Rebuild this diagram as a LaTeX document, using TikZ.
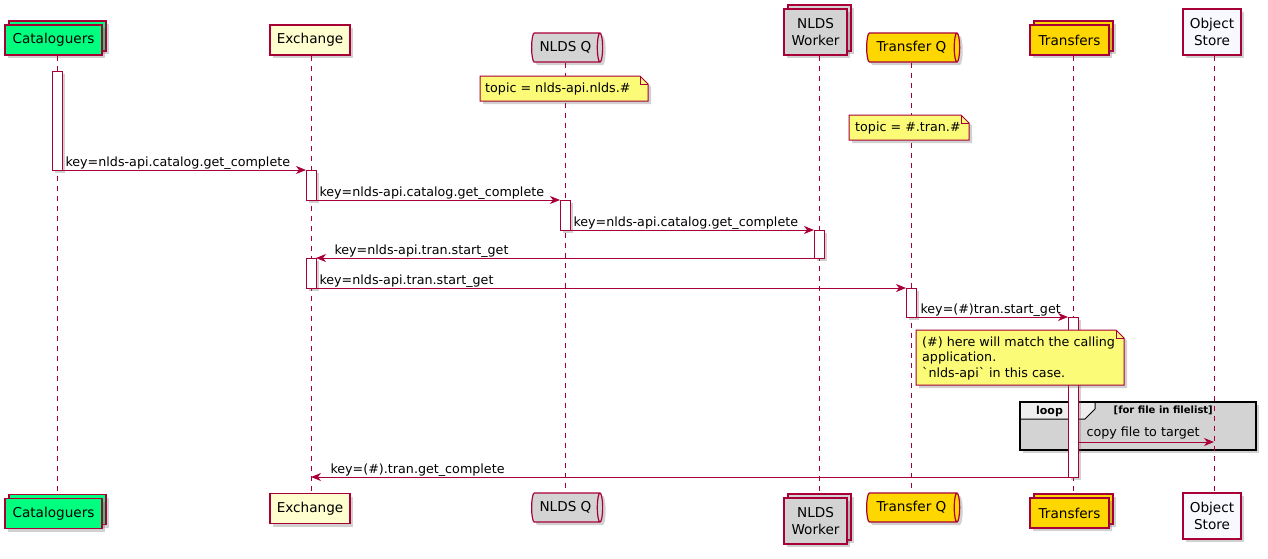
\documentclass[tikz,border=0pt]{standalone}
\usepackage{fontspec}
\setmainfont{DejaVu Sans}[Ligatures=TeXOff]
\usetikzlibrary{arrows.meta,shapes.geometric,shadows}
\newcommand{\partfont}{\fontsize{13.6pt}{17pt}\selectfont}
\newcommand{\msgfont}{\fontsize{12.7pt}{15.5pt}\selectfont}
\definecolor{umlred}{HTML}{A80036}
\definecolor{catgreen}{HTML}{00FF7F}
\definecolor{exyellow}{HTML}{FEFECE}
\definecolor{qgray}{HTML}{D3D3D3}
\definecolor{trgold}{HTML}{FFD700}
\definecolor{storewhite}{HTML}{F8F8FF}
\definecolor{noteyellow}{HTML}{FBFB77}
\definecolor{tabgray}{HTML}{EEEEEE}
\tikzset{>={Stealth[length=10pt,width=8pt,inset=3pt]}}
\tikzset{
  shade/.style={drop shadow={shadow xshift=3pt,shadow yshift=-3pt,fill=black!60,opacity=0.3}},
  part/.style={draw=umlred, line width=1.2pt, inner sep=0pt, align=center, font=\partfont, shade},
  queue/.style={part, cylinder, shape aspect=0.45},
  life/.style={draw=umlred, line width=1pt, dash pattern=on 5pt off 5pt},
  actbar/.style={draw=umlred, fill=white, line width=1pt, minimum width=10pt, inner sep=0pt, outer sep=0pt, shade},
  msg/.style={->, draw=umlred, line width=1pt},
  lbl/.style={anchor=base west, yshift=4pt, inner sep=0pt, font=\msgfont, text=black},
  notebg/.style={draw=umlred, fill=noteyellow, line width=1pt, shade},
  notefold/.style={draw=umlred, line width=1pt},
  notetext/.style={anchor=west, inner sep=0pt, align=left, font=\msgfont},
}
\begin{document}
\begin{tikzpicture}[x=1pt,y=-1pt]
\useasboundingbox (0,0) rectangle (1268,558);

% lifeline columns
\coordinate (lcat) at (57,0);
\coordinate (lex) at (311,0);
\coordinate (lnq) at (565.5,0);
\coordinate (lwk) at (819,0);
\coordinate (ltq) at (911.5,0);
\coordinate (ltr) at (1073,0);
\coordinate (los) at (1214,0);

% participants, top
\node[part, fill=catgreen, minimum width=97pt, minimum height=30pt] (catTb) at (57.5,36) {};
\node[part, fill=catgreen, minimum width=97pt, minimum height=30pt] (catT) at (53.5,40) {Cataloguers};
\node[part, fill=exyellow, minimum width=80pt, minimum height=30pt] (exT) at (310,40) {Exchange};
\node[queue, fill=qgray, minimum height=71pt, minimum width=29pt] (nqT) at (565.5,47.5) {NLDS Q};
\node[part, fill=qgray, minimum width=63pt, minimum height=46pt] (wkTb) at (819.5,28) {};
\node[part, fill=qgray, minimum width=63pt, minimum height=46pt] (wkT) at (815.5,32) {NLDS\\Worker};
\node[queue, fill=trgold, minimum height=93pt, minimum width=29pt] (tqT) at (911.5,47.5) {Transfer Q};
\node[part, fill=trgold, minimum width=79pt, minimum height=30pt] (trTb) at (1073.5,36) {};
\node[part, fill=trgold, minimum width=79pt, minimum height=30pt] (trT) at (1069.5,40) {Transfers};
\node[part, fill=storewhite, minimum width=58pt, minimum height=46pt] (osT) at (1212,32) {Object\\Store};

% participants, bottom
\node[part, fill=catgreen, minimum width=97pt, minimum height=30pt] (catBb) at (57.5,509.5) {};
\node[part, fill=catgreen, minimum width=97pt, minimum height=30pt] (catB) at (53.5,513.5) {Cataloguers};
\node[part, fill=exyellow, minimum width=80pt, minimum height=30pt] (exB) at (310,508.5) {Exchange};
\node[queue, fill=qgray, minimum height=71pt, minimum width=29pt] (nqB) at (565.5,507.5) {NLDS Q};
\node[part, fill=qgray, minimum width=63pt, minimum height=46pt] (wkBb) at (819.5,517) {};
\node[part, fill=qgray, minimum width=63pt, minimum height=46pt] (wkB) at (815.5,521) {NLDS\\Worker};
\node[queue, fill=trgold, minimum height=93pt, minimum width=29pt] (tqB) at (911.5,507.5) {Transfer Q};
\node[part, fill=trgold, minimum width=79pt, minimum height=30pt] (trBb) at (1073.5,509) {};
\node[part, fill=trgold, minimum width=79pt, minimum height=30pt] (trB) at (1069.5,513) {Transfers};
\node[part, fill=storewhite, minimum width=58pt, minimum height=46pt] (osB) at (1212,516) {Object\\Store};

% loop frame
\fill[qgray, shade] (1020,402) rectangle (1256,450);
\filldraw[fill=tabgray, draw=black, line width=1pt] (1020,402) -- (1095,402) -- (1095,409) -- (1085,419) -- (1020,419) -- cycle;
\draw[black, line width=2pt] (1020,402) rectangle (1256,450);
\node[inner sep=0pt, font=\fontsize{11pt}{13pt}\bfseries] (lp) at (1049.5,411) {loop};
\node[anchor=east, inner sep=0pt, font=\fontsize{10pt}{12pt}\bfseries] (lpc) at (1213,410) {[for file in filelist]};

% lifelines
\draw[life] (lcat |- catT.south) -- (lcat |- catBb.north);
\draw[life] (lex |- exT.south) -- (lex |- exB.north);
\draw[life] (lnq |- nqT.south) -- (lnq |- nqB.north);
\draw[life] (lwk |- wkT.south) -- (lwk |- wkBb.north);
\draw[life] (ltq |- tqT.south) -- (ltq |- tqB.north);
\draw[life] (ltr |- trT.south) -- (ltr |- trBb.north);
\draw[life] (los |- osT.south) -- (los |- osB.north);

% activations
\node[actbar, minimum height=99pt] (caA) at (57,120.5) {};
\node[actbar, minimum height=30pt] (exA1) at (311,185) {};
\node[actbar, minimum height=30pt] (nqA) at (565,215) {};
\node[actbar, minimum height=28pt] (wkA) at (819,244) {};
\node[actbar, minimum height=30pt] (exA2) at (311,273) {};
\node[actbar, minimum height=29pt] (tqA) at (911,302.5) {};
\node[actbar, minimum height=160pt] (trA) at (1073,397) {};

% messages
\draw[msg] (caA.south east) -- (exA1.north west) node[lbl, pos=0, xshift=3pt] {key=nlds-api.catalog.get\_complete};
\draw[msg] (exA1.south east) -- (nqA.north west) node[lbl, pos=0, xshift=3pt] {key=nlds-api.catalog.get\_complete};
\draw[msg] (nqA.south east) -- (wkA.north west) node[lbl, pos=0, xshift=3pt] {key=nlds-api.catalog.get\_complete};
\draw[msg] (wkA.south west) -- (exA2.north east) node[lbl, pos=1, xshift=18pt] {key=nlds-api.tran.start\_get};
\draw[msg] (exA2.south east) -- (tqA.north west) node[lbl, pos=0, xshift=3pt] {key=nlds-api.tran.start\_get};
\draw[msg] (tqA.south east) -- (trA.north west) node[lbl, pos=0, xshift=4pt] {key=(\#)tran.start\_get};
\coordinate (osC) at (los |- 0,442);
\draw[msg] (trA.east |- osC) -- (osC) node[lbl, pos=0, xshift=8pt, yshift=2pt] {copy file to target};
\coordinate (exC) at (lex |- trA.south);
\draw[msg] (trA.south west) -- (exC) node[lbl, pos=1, xshift=19pt] {key=(\#).tran.get\_complete};

% notes
\filldraw[notebg] (480,76) -- (640,76) -- (648,84) -- (648,101) -- (480,101) -- cycle;
\draw[notefold] (640,76) |- (648,84);
\node[notetext] (n1) at (485,88.5) {topic = nlds-api.nlds.\#};
\filldraw[notebg] (849,115) -- (961,115) -- (969,123) -- (969,140) -- (849,140) -- cycle;
\draw[notefold] (961,115) |- (969,123);
\node[notetext] (n2) at (855,127.5) {topic = \#.tran.\#};
\filldraw[notebg] (916,330) -- (1116,330) -- (1124,338) -- (1124,385) -- (916,385) -- cycle;
\draw[notefold] (1116,330) |- (1124,338);
\node[notetext] (n3) at (922,358) {(\#) here will match the calling\\application.\\`nlds-api` in this case.};

\end{tikzpicture}
\end{document}
